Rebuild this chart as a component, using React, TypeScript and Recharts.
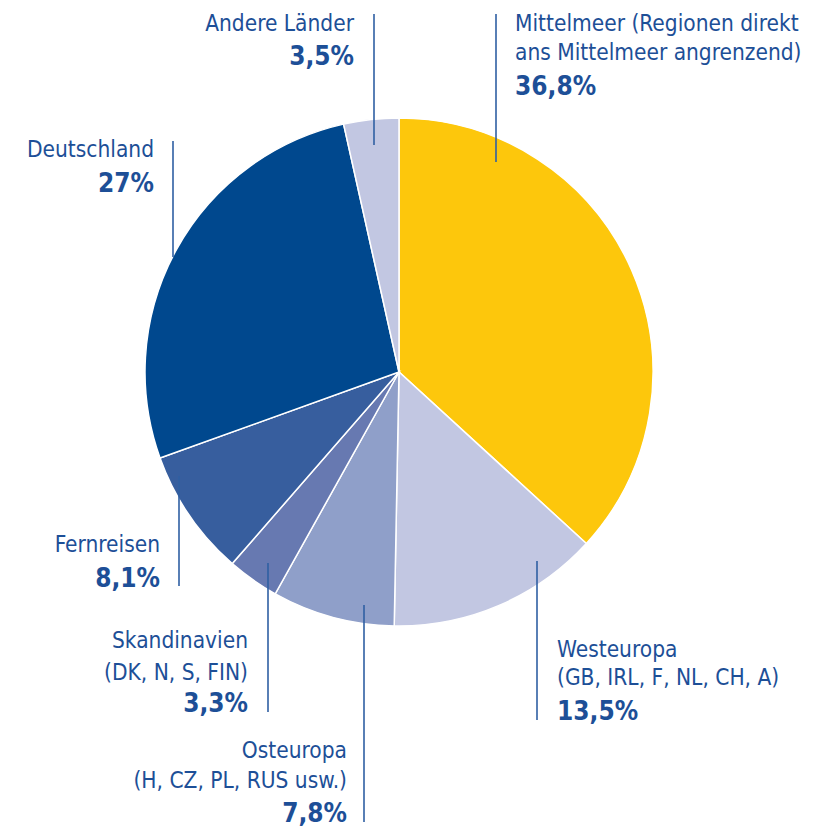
import React from "react";
import { PieChart, Pie, Cell } from "recharts";

const categories = [
  "Mittelmeer",
  "Westeuropa",
  "Osteuropa",
  "Skandinavien",
  "Fernreisen",
  "Deutschland",
  "Andere Länder",
];

const shares = [36.8, 13.5, 7.8, 3.3, 8.1, 27, 3.5];

const labelLines: string[][] = [
  ["Mittelmeer (Regionen direkt", "ans Mittelmeer angrenzend)"],
  ["Westeuropa", "(GB, IRL, F, NL, CH, A)"],
  ["Osteuropa", "(H, CZ, PL, RUS usw.)"],
  ["Skandinavien", "(DK, N, S, FIN)"],
  ["Fernreisen"],
  ["Deutschland"],
  ["Andere Länder"],
];

const colors = ["#FDC70C", "#C2C7E2", "#8F9FC9", "#6779B1", "#375E9E", "#00488E", "#C2C7E2"];

// label layout relative to the pie centre: leader line x, y-range, text anchor x, baselines
const labelLayout = [
  { lx: 97, ly1: -358, ly2: -210, tx: 116, anchor: "start", base: [-341, -312, -277] },
  { lx: 138, ly1: 189, ly2: 348, tx: 158, anchor: "start", base: [285, 313, 348] },
  { lx: -35, ly1: 233, ly2: 450, tx: -52, anchor: "end", base: [386, 416, 450] },
  { lx: -131, ly1: 191, ly2: 340, tx: -151, anchor: "end", base: [276, 308, 340] },
  { lx: -220, ly1: 104, ly2: 214, tx: -239, anchor: "end", base: [180, 215] },
  { lx: -226, ly1: -231, ly2: -115, tx: -245, anchor: "end", base: [-215, -180] },
  { lx: -25, ly1: -358, ly2: -227, tx: -45, anchor: "end", base: [-341, -307] },
];

const data = categories.map((name, i) => ({ name, value: shares[i] }));

const TEXT = "#1D4F97";
const LINE = "#2F5FA3";
const FONT = "'Liberation Sans Narrow', 'DejaVu Sans Condensed', 'Arial Narrow', sans-serif";

const fmt = (v: number) => v.toString().replace(".", ",") + "%";

const renderLabel = (props: any) => {
  const { cx, cy, index } = props;
  const L = labelLayout[index];
  const lines = labelLines[index];
  const x = cx + L.lx;
  return (
    <g key={`lab-${index}`}>
      <line x1={x} x2={x} y1={cy + L.ly1} y2={cy + L.ly2} stroke={LINE} strokeWidth={1.6} />
      {lines.map((t, j) => (
        <text
          key={j}
          x={cx + L.tx}
          y={cy + L.base[j]}
          textAnchor={L.anchor as any}
          fill={TEXT}
          fontFamily={FONT}
          fontSize={22.5}
        >
          {t}
        </text>
      ))}
      <text
        x={cx + L.tx}
        y={cy + L.base[lines.length]}
        textAnchor={L.anchor as any}
        fill={TEXT}
        fontFamily={FONT}
        fontSize={26}
        fontWeight="bold"
      >
        {fmt(shares[index])}
      </text>
    </g>
  );
};

export default function App() {
  return (
    <div style={{ position: "absolute", left: 0, top: 0, width: 824, height: 830, background: "#fff" }}>
      <PieChart width={824} height={830} margin={{ top: 0, right: 0, bottom: 0, left: 0 }}>
        <Pie
          data={data}
          dataKey="value"
          nameKey="name"
          cx={399}
          cy={372}
          outerRadius={254}
          innerRadius={0}
          startAngle={90}
          endAngle={-270}
          stroke="#ffffff"
          strokeWidth={1.5}
          label={renderLabel}
          labelLine={false}
          isAnimationActive={false}
        >
          {data.map((d, i) => (
            <Cell key={d.name} fill={colors[i]} />
          ))}
        </Pie>
      </PieChart>
    </div>
  );
}
